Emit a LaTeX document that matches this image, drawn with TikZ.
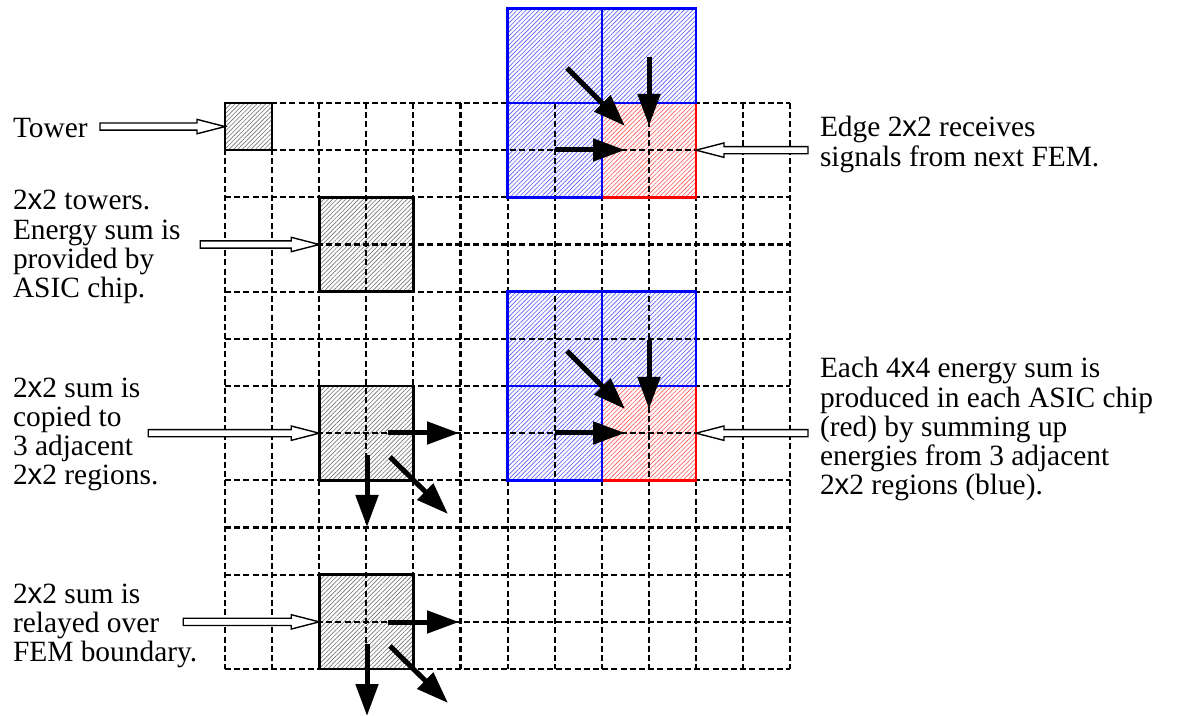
\documentclass[tikz,border=0pt]{standalone}
\usepackage{fontspec}
\setmainfont{Liberation Serif}
\setsansfont{Liberation Sans}
\usetikzlibrary{arrows.meta,patterns.meta,calc}

% the "x" of "2x2" is set upright sans
\newcommand\bx{{\sffamily x}}

% hollow (outlined) horizontal arrow from #1 to #2
\newcommand\feedarrow[2]{%
  \draw[feed] let \p1=(#1), \p2=(#2), \n1={sign(\x2-\x1)} in
    (\x1,{\y1+1.8pt}) -- ({\x2-(\n1)*14pt},{\y1+1.8pt})
    -- ({\x2-(\n1)*14pt},{\y1+3.6pt}) -- (\x2,\y1)
    -- ({\x2-(\n1)*14pt},{\y1-3.6pt}) -- ({\x2-(\n1)*14pt},{\y1-1.8pt})
    -- (\x1,{\y1-1.8pt}) -- cycle;}

\begin{document}
\begin{tikzpicture}[x=0.5pt, y=-0.5pt,
  every node/.style={inner sep=0pt, outer sep=0pt},
  % multi-line notes are placed by the baseline of their last line
  note/.style={anchor=base west, align=left, font=\fontsize{14.7pt}{14.6pt}\selectfont},
  gridline/.style={line width=1.05pt, dash pattern=on 3pt off 1.6pt},
  hatchgray/.style={pattern={Lines[angle=45,distance=1.55pt,line width=0.32pt]}, pattern color=black!55},
  hatchblue/.style={pattern={Lines[angle=45,distance=1.55pt,line width=0.32pt]}, pattern color=blue!65},
  hatchred/.style={pattern={Lines[angle=45,distance=1.55pt,line width=0.32pt]}, pattern color=red!65},
  onecell/.style={minimum width=23.55pt, minimum height=23.585pt},
  twocell/.style={minimum width=47.1pt, minimum height=47.17pt},
  towerframe/.style={draw=black, line width=1.3pt},
  blueframe/.style={draw=blue, line width=1.3pt},
  redframe/.style={draw=red, line width=1.3pt},
  feed/.style={draw=black, fill=white, line width=0.7pt},
  push/.style={line width=2.5pt, -{Triangle[length=16pt,width=11pt]}},
]
\useasboundingbox (0,0) rectangle (1178,716);

% ---------- grid of towers (cell units) ----------
\begin{scope}[shift={(225,103)}, x=23.55pt, y=-23.585pt]
  % hatched regions
  \node[onecell, hatchgray] (tower) at (0.5,0.5) {};
  \node[twocell, hatchgray] (sumA) at (3,3) {};
  \node[twocell, hatchgray] (sumB) at (3,7) {};
  \node[twocell, hatchgray] (sumC) at (3,11) {};
  % receiving chips (red) and their three neighbours (blue)
  \node[twocell, hatchred]  (redA)  at (9,1) {};
  \node[twocell, hatchblue] (blueA1) at (7,-1) {};
  \node[twocell, hatchblue] (blueA2) at (9,-1) {};
  \node[twocell, hatchblue] (blueA3) at (7,1) {};
  \node[twocell, hatchred]  (redB)  at (9,7) {};
  \node[twocell, hatchblue] (blueB1) at (7,5) {};
  \node[twocell, hatchblue] (blueB2) at (9,5) {};
  \node[twocell, hatchblue] (blueB3) at (7,7) {};
  % dashed tower boundaries
  \foreach \k in {0,...,12} {
    \draw[gridline] (0,\k) -- (12,\k);
    \draw[gridline] (\k,0) -- (\k,12);
  }
\end{scope}

% frames
\foreach \b in {tower,sumA,sumB,sumC}
  \draw[towerframe] (\b.north west) rectangle (\b.south east);
\foreach \b in {redA,redB}
  \draw[redframe] (\b.north west) rectangle (\b.south east);
\foreach \b in {blueA1,blueA2,blueA3,blueB1,blueB2,blueB3}
  \draw[blueframe] (\b.north west) rectangle (\b.south east);

% ---------- summing arrows into the red chips ----------
\foreach \b/\dy in {A/0, B/283} {
  \coordinate (diag\b s) at (567,68+\dy);
  \coordinate (diag\b e) at (625,126+\dy);
  \coordinate (vert\b s) at (649,57+\dy);
  \coordinate (vert\b e) at (649,126+\dy);
  \coordinate (hor\b s)  at (555,150+\dy);
  \coordinate (hor\b e)  at (625,150+\dy);
  \draw[push] (diag\b s) -- (diag\b e);
  \draw[push] (vert\b s) -- (vert\b e);
  \draw[push] (hor\b s) -- (hor\b e);
}

% ---------- copying / relaying arrows ----------
\foreach \b/\dy in {B/0, C/189} {
  \coordinate (out\b hs) at (388,433+\dy);
  \coordinate (out\b he) at (459,433+\dy);
  \coordinate (out\b vs) at (367,455+\dy);
  \coordinate (out\b ve) at (367,527+\dy);
  \coordinate (out\b ds) at (390,457+\dy);
  \coordinate (out\b de) at (448,514+\dy);
  \draw[push] (out\b hs) -- (out\b he);
  \draw[push] (out\b vs) -- (out\b ve);
  \draw[push] (out\b ds) -- (out\b de);
}

% ---------- labels ----------
\node[note] (lTower) at (13,138) {Tower};
\node[note] (lSumA) at (13,297.6) {2\bx2 towers.\\Energy sum is\\provided by\\ASIC chip.};
\node[note] (lSumB) at (13,484.6) {2\bx2 sum is\\copied to\\3 adjacent\\2\bx2 regions.};
\node[note] (lSumC) at (13,661.4) {2\bx2 sum is\\relayed over\\FEM boundary.};
\node[note] (lEdge) at (820,166.2) {Edge 2\bx2 receives\\signals from next FEM.};
\node[note] (lEach) at (820,494.8) {Each 4\bx4 energy sum is\\produced in each ASIC chip\\(red) by summing up\\energies from 3 adjacent\\2\bx2 regions (blue).};

% ---------- pointer arrows from the labels ----------
\coordinate (pTower) at ($(tower.west)+(-125,0)$);
\coordinate (pSumA)  at ($(sumA.west)+(-119,0)$);
\coordinate (pSumB)  at ($(sumB.west)+(-171,0)$);
\coordinate (pSumC)  at ($(sumC.west)+(-136,0)$);
\coordinate (pEdge)  at ($(redA.east)+(112,0)$);
\coordinate (pEach)  at ($(redB.east)+(112,0)$);
\feedarrow{pTower}{tower.west}
\feedarrow{pSumA}{sumA.west}
\feedarrow{pSumB}{sumB.west}
\feedarrow{pSumC}{sumC.west}
\feedarrow{pEdge}{redA.east}
\feedarrow{pEach}{redB.east}
\end{tikzpicture}
\end{document}
